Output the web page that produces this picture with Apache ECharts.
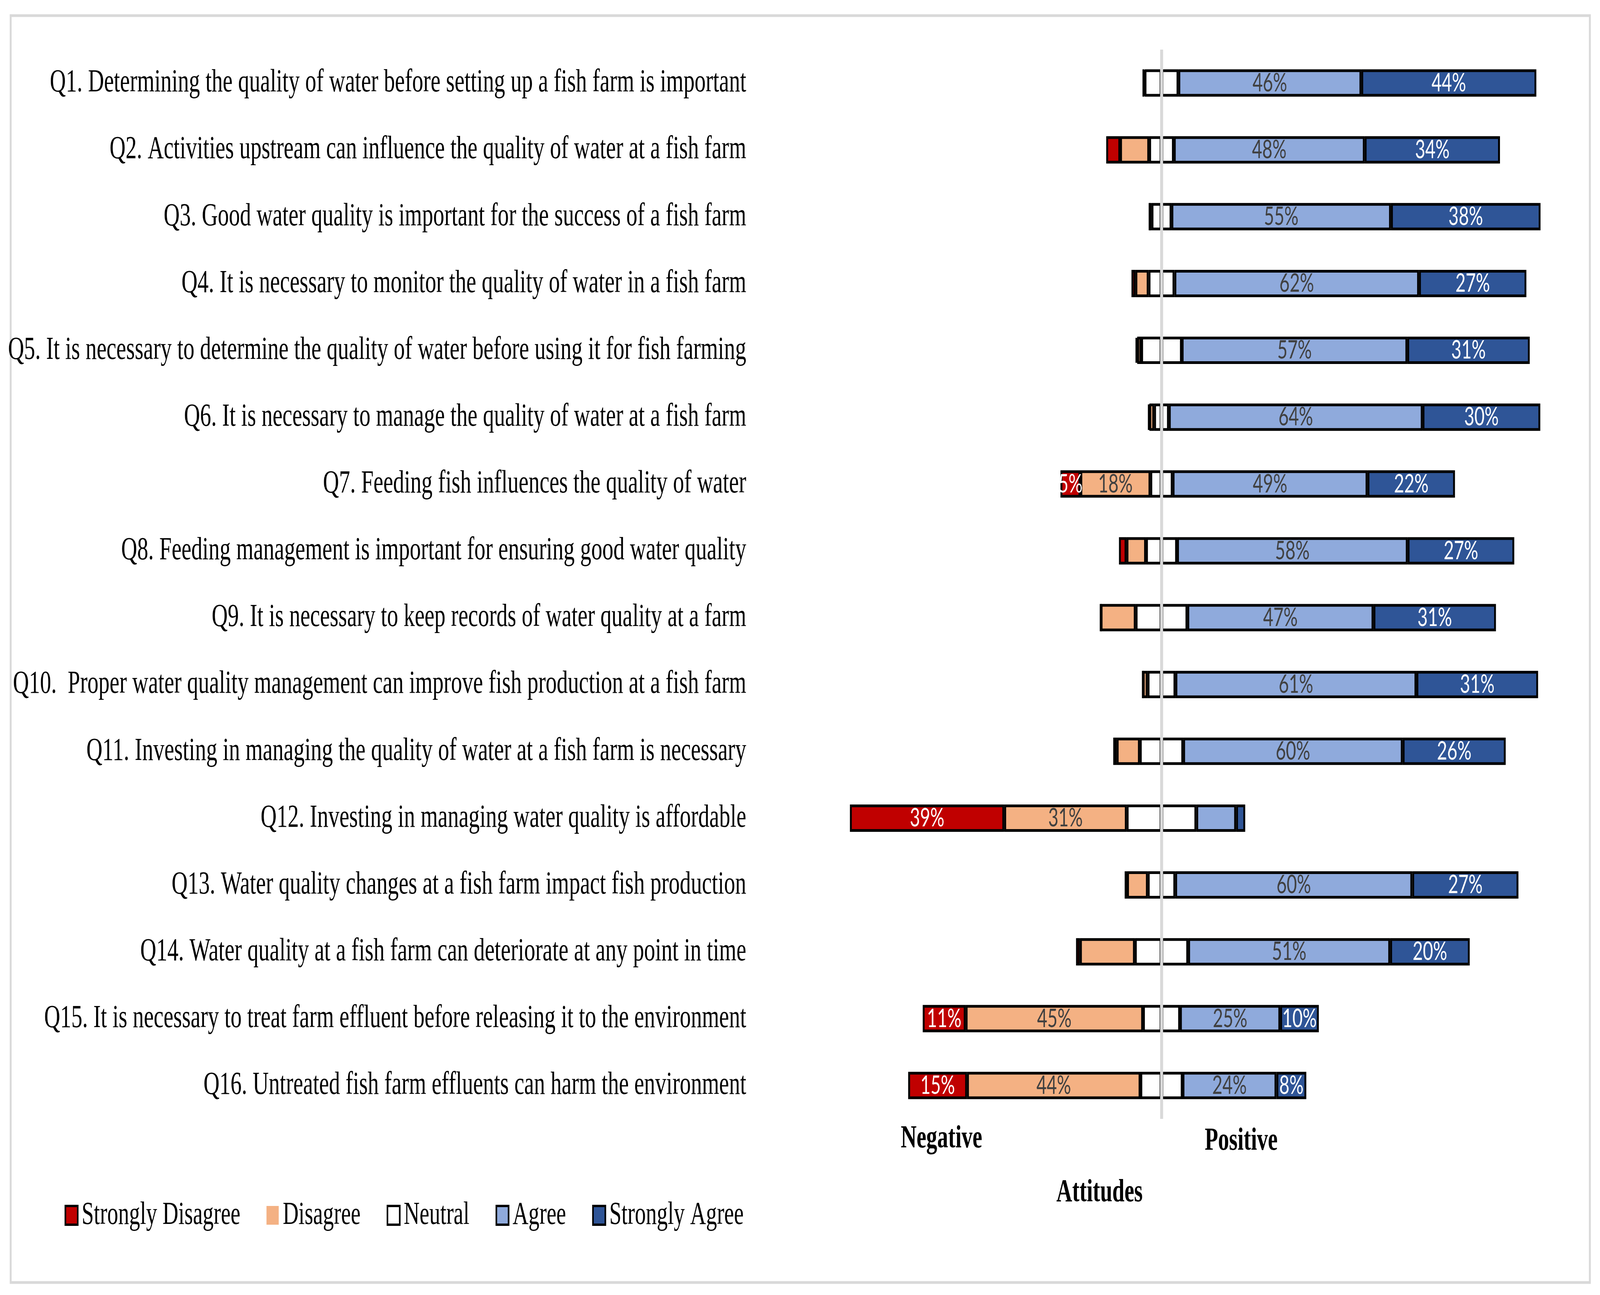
<!DOCTYPE html>
<html>
<head>
<meta charset="utf-8">
<script src="https://cdn.jsdelivr.net/npm/echarts@6/dist/echarts.min.js"></script>
<style>
html,body{margin:0;padding:0;background:#fff;overflow:hidden}
#c{position:absolute;left:0;top:0;width:5995px;height:3316px;transform-origin:0 0}
</style>
</head>
<body>
<div id="c"></div>
<script>
var categories = [
  "Q1. Determining the quality of water before setting up a fish farm is important",
  "Q2. Activities upstream can influence the quality of water at a fish farm",
  "Q3. Good water quality is important for the success of a fish farm",
  "Q4. It is necessary to monitor the quality of water in a fish farm",
  "Q5. It is necessary to determine the quality of water before using it for fish farming",
  "Q6. It is necessary to manage the quality of water at a fish farm",
  "Q7. Feeding fish influences the quality of water",
  "Q8. Feeding management is important for ensuring good water quality",
  "Q9. It is necessary to keep records of water quality at a farm",
  "Q10.  Proper water quality management can improve fish production at a fish farm",
  "Q11. Investing in managing the quality of water at a fish farm is necessary",
  "Q12. Investing in managing water quality is affordable",
  "Q13. Water quality changes at a fish farm impact fish production",
  "Q14. Water quality at a fish farm can deteriorate at any point in time",
  "Q15. It is necessary to treat farm effluent before releasing it to the environment",
  "Q16. Untreated fish farm effluents can harm the environment"
];
var stronglyDisagree = [0, 3.5, 0, 1, 0.4, 0.3, 5, 1.9, 0, 0, 0.9, 38.8, 0.6, 1, 10.8, 14.8];
var disagree         = [0.3, 7.3, 0.5, 3.3, 1.0, 1.2, 17.6, 4.9, 8.8, 1.2, 5.8, 30.8, 5.2, 13.8, 44.6, 43.6];
var neutral          = [8.5, 6.2, 5, 6.5, 10.2, 3.7, 5.6, 7.8, 13, 7, 10.9, 17.5, 6.9, 13.4, 9.3, 10.6];
var agree            = [46, 48, 55.2, 61.5, 56.7, 63.8, 49, 58, 46.8, 60.6, 55.2, 10, 59.6, 50.8, 25.2, 23.6];
var stronglyAgree    = [44, 34, 37.6, 27, 30.8, 29.6, 22, 26.8, 30.8, 30.6, 25.9, 2.3, 26.7, 20, 9.7, 7.5];

var sdLabels = ["", "", "", "", "", "", "5%", "", "", "", "", "39%", "", "", "11%", "15%"];
var dLabels  = ["", "", "", "", "", "", "18%", "", "", "", "", "31%", "", "", "45%", "44%"];
var aLabels  = ["46%", "48%", "55%", "62%", "57%", "64%", "49%", "58%", "47%", "61%", "60%", "", "60%", "51%", "25%", "24%"];
var saLabels = ["44%", "34%", "38%", "27%", "31%", "30%", "22%", "27%", "31%", "31%", "26%", "", "27%", "20%", "10%", "8%"];

var SERIF = '"Liberation Serif", "DejaVu Serif", serif';
var SANS = 'Lato, "Open Sans", sans-serif';

// Fit the 5995x3316 drawing into whatever viewport the browser actually has.
var dom = document.getElementById('c');
var VW = window.innerWidth || 5995;
var VH = window.innerHeight || 3316;
dom.style.transform = 'scale(' + (VW / 5995) + ',' + (VH / 3316) + ')';

function lbl(texts, color) {
  return {
    show: true,
    position: 'inside',
    fontFamily: SANS,
    fontSize: 66,
    color: color,
    formatter: function (p) { return texts[p.dataIndex]; }
  };
}
function barSeries(name, data, color, labelTexts, labelColor) {
  return {
    name: name,
    type: 'bar',
    stack: 'total',
    barWidth: 70,
    z: 2,
    data: data,
    itemStyle: { color: color, borderColor: '#000', borderWidth: 7 },
    label: labelTexts ? lbl(labelTexts, labelColor) : { show: false },
    emphasis: { disabled: true }
  };
}

var neutralHalfNeg = neutral.map(function (v) { return -v / 2; });
var neutralHalfPos = neutral.map(function (v) { return v / 2; });
var disagreeNeg = disagree.map(function (v) { return -v; });
var stronglyDisagreeNeg = stronglyDisagree.map(function (v) { return -v; });

var legendItemStyle = { borderColor: '#000', borderWidth: 6 };

var chart = echarts.init(dom, null, { renderer: 'canvas', width: 5995, height: 3316 });
chart.setOption({
  animation: false,
  backgroundColor: '#fff',
  grid: { left: 2862, right: 153, top: 127, bottom: 451, containLabel: false },
  xAxis: {
    type: 'value', min: -100, max: 100, show: false, splitLine: { show: false }
  },
  yAxis: {
    type: 'category',
    data: categories,
    inverse: true,
    axisLine: { show: false, onZero: false },
    axisTick: { show: false },
    splitLine: { show: false },
    axisLabel: {
      margin: 66,
      color: '#000',
      fontFamily: SERIF,
      fontSize: 83
    }
  },
  legend: {
    data: [
      { name: 'Strongly Disagree', itemStyle: legendItemStyle },
      { name: 'Disagree', itemStyle: { borderWidth: 0 } },
      { name: 'Neutral', itemStyle: legendItemStyle },
      { name: 'Agree', itemStyle: legendItemStyle },
      { name: 'Strongly Agree', itemStyle: legendItemStyle }
    ],
    icon: 'rect',
    left: 237,
    top: 3066,
    itemWidth: 46,
    itemHeight: 48,
    itemGap: 98,
    selectedMode: false,
    textStyle: {
      fontFamily: SERIF, fontSize: 82, color: '#000',
      padding: [0, 0, 0, 10]
    }
  },
  series: [
    barSeries('Neutral', neutralHalfNeg, '#FFFFFF'),
    barSeries('Disagree', disagreeNeg, '#F4B183', dLabels, '#404040'),
    barSeries('Strongly Disagree', stronglyDisagreeNeg, '#C00000', sdLabels, '#FFFFFF'),
    barSeries('Neutral', neutralHalfPos, '#FFFFFF'),
    barSeries('Agree', agree, '#8FAADC', aLabels, '#404040'),
    barSeries('Strongly Agree', stronglyAgree, '#2F5597', saLabels, '#FFFFFF'),
    {
      name: 'center',
      type: 'line',
      data: [],
      z: 20,
      silent: true,
      markLine: {
        z: 20,
        silent: true,
        symbol: ['none', 'none'],
        label: { show: false },
        lineStyle: { color: '#D9D9D9', width: 11, type: 'solid' },
        data: [{ xAxis: 0 }]
      }
    }
  ],
  graphic: [
    {
      type: 'rect', silent: true,
      shape: { x: 40, y: 40, width: 5917, height: 3244 },
      style: { fill: 'none', stroke: '#D9D9D9', lineWidth: 7 }
    },
    {
      type: 'text', left: 3375, top: 2876,
      style: { text: 'Negative', fontFamily: SERIF, fontWeight: 'bold', fontSize: 82, fill: '#000' }
    },
    {
      type: 'text', left: 4514, top: 2882,
      style: { text: 'Positive', fontFamily: SERIF, fontWeight: 'bold', fontSize: 82, fill: '#000' }
    },
    {
      type: 'text', left: 3958, top: 3014,
      style: { text: 'Attitudes', fontFamily: SERIF, fontWeight: 'bold', fontSize: 82, fill: '#000' }
    }
  ]
});
</script>
</body>
</html>
